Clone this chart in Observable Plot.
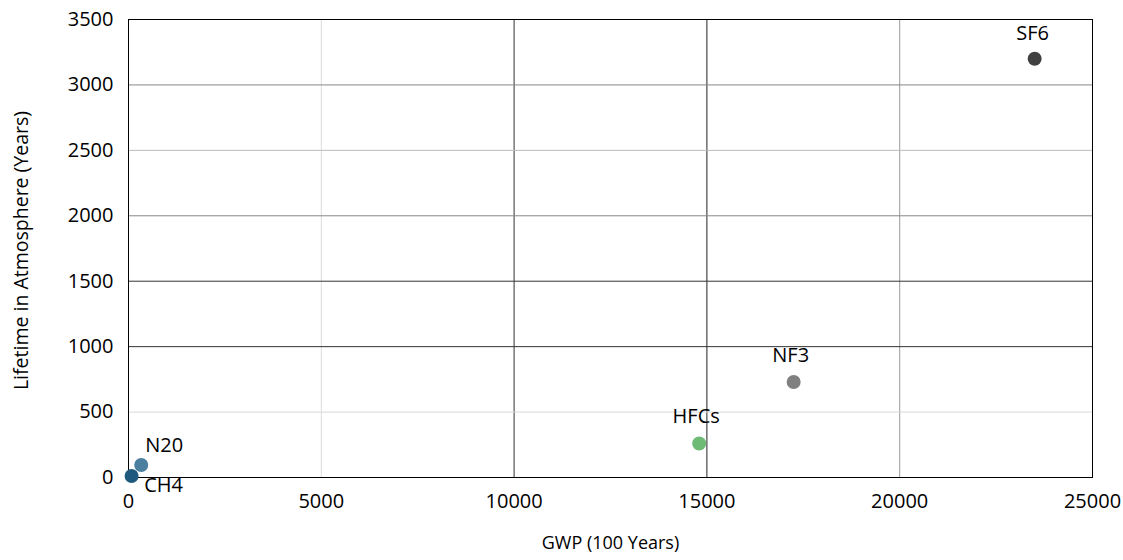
<!DOCTYPE html>
<html>
<head>
<meta charset="utf-8">
<script src="https://cdn.jsdelivr.net/npm/d3@7"></script>
<script src="https://cdn.jsdelivr.net/npm/@observablehq/plot@0.6"></script>
<style>
  html, body { margin: 0; padding: 0; background: #fff; }
  #chart svg { display: block; font-family: "Open Sans", "Noto Sans", sans-serif; }
</style>
</head>
<body>
<div id="chart"></div>
<script>
// Data
const gases = ["CH4", "N20", "HFCs", "NF3", "SF6"];
const gwp = [80, 330, 14800, 17250, 23500];
const lifetime = [12, 95, 260, 730, 3200];
const gasColors = ["#1f5a7e", "#4a7fa0", "#6dbb75", "#808080", "#404040"];
const xTicks = [0, 5000, 10000, 15000, 20000, 25000];
const yTicks = [0, 500, 1000, 1500, 2000, 2500, 3000, 3500];
const xTitle = "GWP (100 Years)";
const yTitle = "Lifetime in Atmosphere (Years)";

const rows = gases.map((g, i) => ({gas: g, gwp: gwp[i], life: lifetime[i]}));

// grid shades (emulating the reference's uneven gridline rendering)
const xGridShade = {5000: "#dcdcdc", 10000: "#333", 15000: "#222", 20000: "#999"};
const yGridShade = {500: "#d8d8d8", 1000: "#333", 1500: "#333", 2000: "#888", 2500: "#bbb", 3000: "#888"};

// label placement per gas
const labelPlace = {
  CH4: {dx: 32, dy: 10},
  N20: {dx: 23, dy: -19},
  HFCs: {dx: -3, dy: -27},
  NF3: {dx: -3, dy: -26},
  SF6: {dx: -2, dy: -25}
};

const gridMarks = [
  ...xTicks.filter(t => xGridShade[t]).map(t => Plot.ruleX([t], {stroke: xGridShade[t], strokeWidth: 1})),
  ...yTicks.filter(t => yGridShade[t]).map(t => Plot.ruleY([t], {stroke: yGridShade[t], strokeWidth: 1}))
];

const labelMarks = gases.map(g => Plot.text(rows.filter(r => r.gas === g), {
  x: "gwp", y: "life", text: "gas",
  dx: labelPlace[g].dx, dy: labelPlace[g].dy,
  fontSize: 20, fill: "#000"
}));

const chart = Plot.plot({
  width: 1123,
  height: 560,
  marginTop: 19,
  marginBottom: 83,
  marginLeft: 128,
  marginRight: 31,
  style: {fontFamily: '"Open Sans", "Noto Sans", sans-serif', background: "#fff"},
  x: {domain: [0, 25000]},
  y: {domain: [0, 3500]},
  color: {domain: gases, range: gasColors},
  marks: [
    ...gridMarks,
    Plot.frame({stroke: "#000", strokeWidth: 1}),
    Plot.axisX(xTicks, {tickSize: 0, tickPadding: 16, fontSize: 20, fill: "#000", label: null, tickFormat: d => String(d)}),
    Plot.axisY(yTicks, {tickSize: 0, tickPadding: 15, fontSize: 20, fill: "#000", label: null, tickFormat: d => String(d)}),
    Plot.text([xTitle], {frameAnchor: "bottom", dy: 71, fontSize: 18, fill: "#000"}),
    Plot.text([yTitle], {frameAnchor: "left", dx: -107, dy: 2, rotate: -90, textAnchor: "middle", fontSize: 19.5, fill: "#000"}),
    Plot.dot(rows, {x: "gwp", y: "life", fill: "gas", r: 7, stroke: "none"}),
    ...labelMarks
  ]
});

document.getElementById("chart").appendChild(chart);
</script>
</body>
</html>
